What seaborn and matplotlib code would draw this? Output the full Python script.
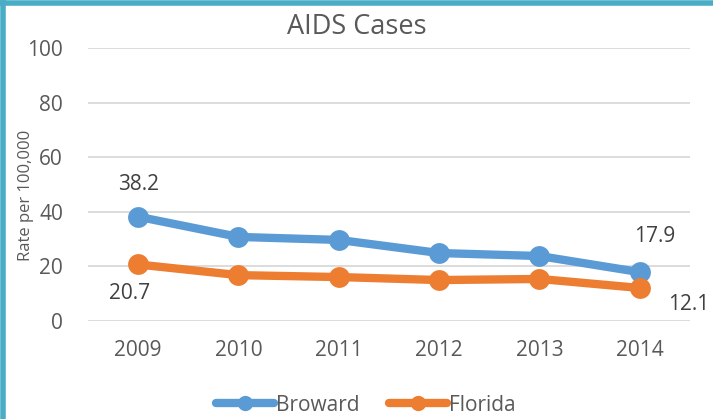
import pandas as pd
import seaborn as sns
import matplotlib.pyplot as plt
from matplotlib.lines import Line2D

years = ["2009", "2010", "2011", "2012", "2013", "2014"]
broward = [38.2, 30.8, 29.7, 24.9, 23.8, 17.9]
florida = [20.7, 16.8, 16.1, 15.0, 15.4, 12.1]
series = ["Broward", "Florida"]
colors = ["#5B9BD5", "#ED7D31"]

df = pd.DataFrame({
    "Year": years * 2,
    "Rate": broward + florida,
    "Area": ["Broward"] * 6 + ["Florida"] * 6,
})

sns.set_style("white")
plt.rcParams["font.family"] = ["Open Sans", "DejaVu Sans"]
grey = "#595959"

fig = plt.figure(figsize=(7.13, 4.19), dpi=100)
ax = fig.add_axes([0.1234, 0.2339, 0.8443, 0.6515])

sns.lineplot(data=df, x="Year", y="Rate", hue="Area", palette=colors,
             marker="o", markersize=15, linewidth=6, markeredgewidth=0,
             sort=False, ax=ax, legend=False)

ax.set_ylim(0, 100)
ax.set_xlim(-0.5, 5.5)
ax.set_yticks(range(0, 101, 20))
ax.yaxis.grid(True, color="#D9D9D9", linewidth=1.3)
ax.set_axisbelow(True)
for s in ax.spines.values():
    s.set_visible(False)
ax.tick_params(axis="both", length=0, labelsize=15, labelcolor=grey)
ax.tick_params(axis="x", pad=14)
ax.tick_params(axis="y", pad=18)
ax.set_xlabel("")
ax.set_ylabel("Rate per 100,000", fontsize=12, color=grey)
ax.yaxis.set_label_coords(-0.09, 0.46)
fig.text(0.5, 0.935, "AIDS Cases", ha="center", va="center",
         fontsize=19.5, color=grey)

# data labels
lab = dict(textcoords="offset points", ha="center", va="center",
           fontsize=15, color="#404040", annotation_clip=False)
ax.annotate("38.2", (0, broward[0]), xytext=(0, 23), **lab)
ax.annotate("20.7", (0, florida[0]), xytext=(-6, -21), **lab)
ax.annotate("17.9", (5, broward[5]), xytext=(11, 26), **lab)
ax.annotate("12.1", (5, florida[5]), xytext=(35, -12), **lab)

handles = [Line2D([], [], color=c, linewidth=6, marker="o", markersize=11,
                  markeredgewidth=0, solid_capstyle="round") for c in colors]
fig.legend(handles, series, loc="center", bbox_to_anchor=(0.513, 0.033), ncol=2,
           frameon=False, fontsize=15, handlelength=2.8, columnspacing=1.4,
           handletextpad=0.1, labelcolor=grey)

# teal frame edges
fig.add_artist(Line2D([0, 1], [0.994, 0.994], transform=fig.transFigure,
                      color="#4BACC6", linewidth=4))
fig.add_artist(Line2D([0.004, 0.004], [0, 1], transform=fig.transFigure,
                      color="#4BACC6", linewidth=4))

fig.savefig("out.png", dpi=100)
